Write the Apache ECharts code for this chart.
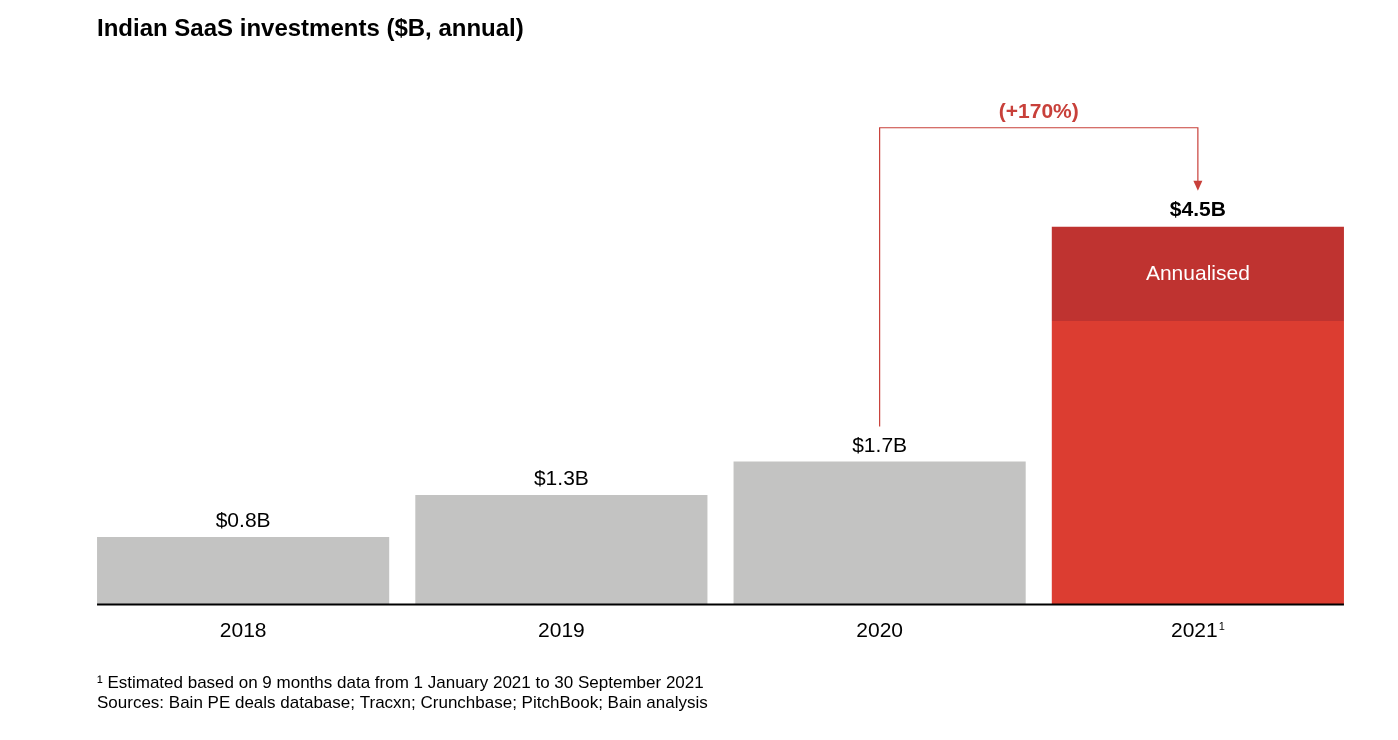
<!DOCTYPE html>
<html>
<head>
<meta charset="utf-8">
<script src="https://cdn.jsdelivr.net/npm/echarts@6/dist/echarts.min.js"></script>
<style>html,body{margin:0;padding:0;background:#fff;}#c{width:1398px;height:740px;}</style>
</head>
<body>
<div id="c"></div>
<script>
var categories = ['2018', '2019', '2020', '2021'];
var reported = [0.8, 1.3, 1.7, 3.375];
var annualised = [null, null, null, 1.125];
var totals = [0.8, 1.3, 1.7, 4.5];
var growthText = '(+170%)';
var growthFrom = 2, growthTo = 3;

var FONT = '"Liberation Sans", Arial, sans-serif';
var GAP = 0.082;
var chart = echarts.init(document.getElementById('c'));

chart.setOption({
  animation: false,
  textStyle: { fontFamily: FONT },
  title: {
    text: 'Indian SaaS investments ($B, annual)',
    left: 92, top: 12,
    textStyle: { fontFamily: FONT, fontSize: 24, fontWeight: 'bold', color: '#000' }
  },
  grid: { left: 84, right: 41, top: 101, bottom: 136 },
  xAxis: {
    type: 'category',
    data: categories,
    axisLine: { show: false },
    axisTick: { show: false },
    axisLabel: {
      fontSize: 21, color: '#000', margin: 17, fontFamily: FONT,
      formatter: function (v, i) { return i === 3 ? v + '{sup|1}' : v; },
      rich: { sup: { fontSize: 11, verticalAlign: 'top', padding: [0, 0, 10, 1], color: '#000' } }
    }
  },
  yAxis: { type: 'value', min: 0, max: 6, show: false, splitLine: { show: false } },
  series: [
    {
      type: 'bar', stack: 'a', data: reported, barCategoryGap: (GAP * 100) + '%',
      itemStyle: {
        color: function (p) { return p.dataIndex === 3 ? '#dc3d31' : '#c3c3c2'; }
      },
      label: {
        show: true, position: 'top', distance: 5, fontSize: 21, color: '#000', fontFamily: FONT,
        formatter: function (p) { return p.dataIndex === 3 ? '' : '$' + totals[p.dataIndex].toFixed(1) + 'B'; }
      }
    },
    {
      type: 'bar', stack: 'a', data: annualised,
      itemStyle: { color: '#bf3330' },
      label: {
        show: true, position: 'inside', fontSize: 21, color: '#fff', fontFamily: FONT,
        formatter: 'Annualised'
      }
    },
    {
      type: 'bar', stack: 'a', data: [null, null, null, 0],
      itemStyle: { color: 'transparent' },
      silent: true,
      label: {
        show: true, position: 'top', distance: 6, fontSize: 21, fontWeight: 'bold', color: '#000', fontFamily: FONT,
        formatter: function (p) { return '$' + totals[p.dataIndex].toFixed(1) + 'B'; }
      }
    },
    {
      type: 'custom',
      coordinateSystem: 'cartesian2d',
      silent: true,
      clip: false,
      z: 10,
      encode: { x: 0, y: 2 },
      data: [[growthFrom, growthTo, totals[growthFrom], totals[growthTo]]],
      renderItem: function (params, api) {
        var a = api.coord([api.value(0), api.value(2)]);
        var b = api.coord([api.value(1), api.value(3)]);
        var band = api.size([1, 0])[0];
        var halfBar = band * (1 - GAP) / 2;
        var first = api.coord([0, 0]);
        var last = api.coord([categories.length - 1, 0]);
        var yStart = a[1] - 35;
        var yTop = b[1] - 99;
        var yEnd = b[1] - 36;
        var c = '#c8403a';
        return {
          type: 'group',
          children: [
            { type: 'line', shape: { x1: first[0] - halfBar, y1: first[1] + 0.5, x2: last[0] + halfBar, y2: last[1] + 0.5 },
              style: { stroke: '#000', lineWidth: 2.2 } },
            { type: 'polyline', shape: { points: [[a[0], yStart], [a[0], yTop], [b[0], yTop], [b[0], yEnd - 8]] },
              style: { stroke: c, lineWidth: 1.2, fill: null } },
            { type: 'polygon', shape: { points: [[b[0] - 4.5, yEnd - 10], [b[0] + 4.5, yEnd - 10], [b[0], yEnd]] },
              style: { fill: c } },
            { type: 'text', x: (a[0] + b[0]) / 2, y: yTop - 5,
              style: { text: growthText, fill: '#c8403a', font: 'bold 21px ' + FONT, textAlign: 'center', textVerticalAlign: 'bottom' } }
          ]
        };
      }
    }
  ],
  graphic: [
    { type: 'text', left: 97, top: 675,
      style: { text: '\u00B9 Estimated based on 9 months data from 1 January 2021 to 30 September 2021', fill: '#000', font: '17px ' + FONT } },
    { type: 'text', left: 97, top: 695,
      style: { text: 'Sources: Bain PE deals database; Tracxn; Crunchbase; PitchBook; Bain analysis', fill: '#000', font: '17px ' + FONT } }
  ]
});
</script>
</body>
</html>
